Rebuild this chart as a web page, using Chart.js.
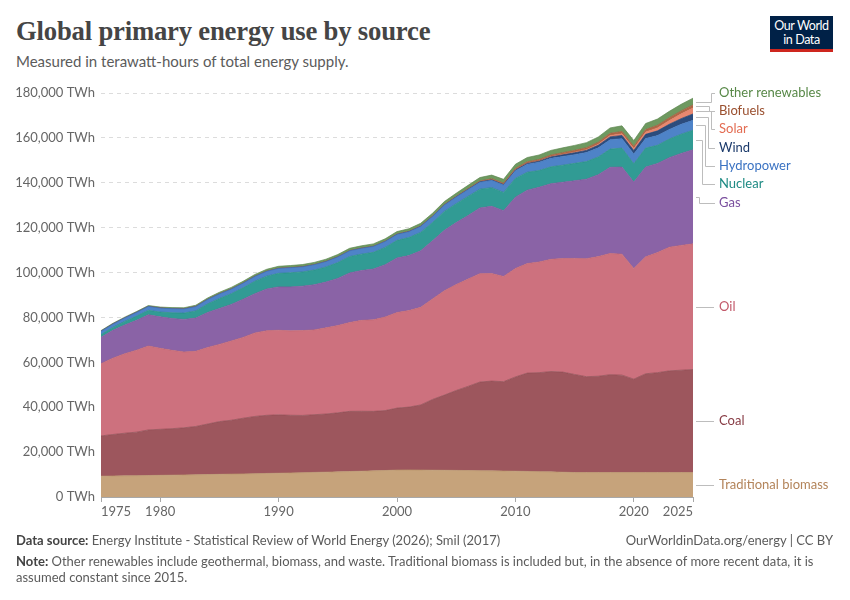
<!DOCTYPE html>
<html>
<head>
<meta charset="utf-8">
<script src="https://cdn.jsdelivr.net/npm/chart.js@4.4.1/dist/chart.umd.min.js"></script>
<style>
  html, body { margin: 0; padding: 0; background: #fff; }
  body { width: 850px; height: 600px; position: relative; overflow: hidden; font-family: Lato, "Noto Sans", sans-serif; }
  #c { position: absolute; left: 0; top: 0; }
  .title { position: absolute; left: 16px; top: 16px; font-family: "Liberation Serif", "DejaVu Serif", serif; font-weight: bold; font-size: 26.7px; color: #454545; letter-spacing: -0.2px; white-space: nowrap; }
  .subtitle { position: absolute; left: 16px; top: 52px; font-size: 15px; color: #5b5b5b; white-space: nowrap; }
  .logo { position: absolute; left: 770px; top: 16px; width: 63px; background: #002147; border-bottom: 3px solid #ce261e; color: #fff; font-size: 12.5px; line-height: 13.5px; text-align: center; padding-top: 3px; box-sizing: content-box; height: 30px; letter-spacing: -0.4px; }
  .foot { position: absolute; left: 16px; font-size: 13px; color: #5b5b5b; white-space: nowrap; }
  .foot b { color: #444; font-weight: bold; }
  .footr { position: absolute; right: 17px; font-size: 13px; color: #5b5b5b; white-space: nowrap; }
</style>
</head>
<body>
<div class="title">Global primary energy use by source</div>
<div class="subtitle">Measured in terawatt-hours of total energy supply.</div>
<div class="logo">Our World<br>in Data</div>
<canvas id="c" width="850" height="600"></canvas>
<div class="foot" style="top:532px;"><b>Data source:</b> Energy Institute - Statistical Review of World Energy (2026); Smil (2017)</div>
<div class="footr" style="top:532px;">OurWorldinData.org/energy | CC BY</div>
<div class="foot" style="top:553px;"><b>Note:</b> Other renewables include geothermal, biomass, and waste. Traditional biomass is included but, in the absence of more recent data, it is</div>
<div class="foot" style="top:569px;">assumed constant since 2015.</div>
<script>
// ---------- DATA (TWh) ----------
const years = [1975,1976,1977,1978,1979,1980,1981,1982,1983,1984,1985,1986,1987,1988,1989,1990,1991,1992,1993,1994,1995,1996,1997,1998,1999,2000,2001,2002,2003,2004,2005,2006,2007,2008,2009,2010,2011,2012,2013,2014,2015,2016,2017,2018,2019,2020,2021,2022,2023,2024,2025];

const traditionalBiomass = [9300,9350,9420,9500,9580,9660,9740,9830,9920,10010,10100,10200,10300,10400,10500,10600,10720,10840,10960,11080,11200,11350,11500,11650,11800,12000,12050,12000,11950,11900,11850,11780,11710,11640,11570,11500,11400,11300,11200,11050,10900,10900,10900,10900,10900,10900,10900,10900,10900,10900,10900];
const coal = [17900,18500,19000,19400,20300,20500,20700,21000,21500,22500,23500,24000,24800,25500,25900,26000,25700,25500,25700,25900,26300,26800,26700,26500,26700,27600,28000,29000,31500,33500,35600,37500,39500,40000,39800,42000,43800,44100,44700,44600,43700,42700,42900,43600,43400,41600,44000,44500,45300,45600,45900];
const oil = [32200,34000,35400,36500,37400,36100,34900,33800,33500,34100,34400,35300,36000,37200,37700,37700,37600,37800,37800,38400,38900,39600,40500,40800,41700,42600,43000,43500,44800,46500,47200,47800,48300,47900,46900,48300,48800,49300,50000,50600,51700,52600,53300,54000,53900,49300,52100,53500,55100,55600,56000];
const gas = [11800,12400,12800,13300,13900,14000,14200,14500,14800,15600,16000,16300,17000,17500,18600,19300,19600,19800,20100,20400,21000,22100,22200,22600,23300,24300,24500,25200,25900,26900,27600,28300,29300,30000,29300,31800,32700,33300,33700,34000,34600,35400,36500,38400,38800,38500,40000,39700,39900,41000,41900];
const nuclear = [1150,1300,1620,1900,2000,2150,2550,2800,3200,3800,4450,4750,5100,5550,5700,6050,6300,6350,6550,6700,7050,7300,7300,7450,7700,7850,8050,8200,8150,8450,8450,8550,8350,8300,8150,8350,8000,7450,7500,7600,7750,7850,7900,8100,8450,8150,8450,8100,8300,8550,8700];
const hydropower = [1450,1470,1510,1620,1690,1730,1760,1810,1880,1940,1990,2020,2050,2120,2130,2160,2210,2230,2340,2380,2480,2520,2560,2590,2610,2650,2600,2650,2660,2800,2920,3030,3080,3240,3250,3430,3500,3670,3780,3880,3880,4020,4060,4180,4220,4340,4270,4330,4240,4400,4420];
const wind = [0,0,0,0,0,0,0,0,0,0,0,0,0,1,2,4,4,5,6,7,8,10,12,16,21,31,38,52,63,85,104,132,170,220,276,346,437,523,640,712,833,960,1140,1270,1420,1590,1850,2100,2330,2520,2850];
const solar = [0,0,0,0,0,0,0,0,0,0,0,0,0,0,0,0,0,0,0,0,1,1,1,1,1,1,1,2,3,4,5,6,8,12,21,32,64,100,134,190,256,329,444,574,700,850,1030,1310,1640,2130,2650];
const biofuels = [0,0,0,5,15,40,50,60,70,80,90,90,90,90,90,90,90,95,95,100,100,105,105,105,110,110,115,130,150,170,220,290,380,500,560,650,650,660,720,800,830,870,920,1000,1080,1000,1100,1180,1270,1330,1380];
const otherRenewables = [330,350,370,400,420,450,480,510,560,620,680,720,760,800,850,880,900,930,950,980,1000,1020,1040,1060,1090,1120,1150,1200,1250,1320,1390,1460,1530,1610,1700,1820,1900,1980,2050,2130,2200,2250,2330,2420,2500,2580,2700,2780,2850,2930,3000];

const seriesNames = ["Traditional biomass","Coal","Oil","Gas","Nuclear","Hydropower","Wind","Solar","Biofuels","Other renewables"];
const seriesValues = [traditionalBiomass, coal, oil, gas, nuclear, hydropower, wind, solar, biofuels, otherRenewables];
const xTickYears = [1975,1980,1990,2000,2010,2020,2025];
const yTicks = [0,20000,40000,60000,80000,100000,120000,140000,160000,180000];

// ---------- STYLE ----------
const fillColors = ['#c6a37b','#9d565d','#cd717e','#8a63a6','#319b94','#4e83c8','#2c4c7d','#e98870','#af6846','#6e9960'];
const lineColors = ['#b8936a','#8f4a52','#c0646f','#7d5699','#268b84','#4175bb','#22406d','#dc7a62','#9c5a3b','#5d8650'];
const labelColors = ['#b3845a','#883c45','#c2596a','#7a4f9e','#1d8a83','#3a72c2','#1b3a6b','#e36c52','#9a4f2e','#578847'];
const labelY = {"Other renewables":93,"Biofuels":111,"Solar":129,"Wind":148,"Hydropower":166,"Nuclear":184,"Gas":203};
const elbowX = {"Other renewables":711,"Biofuels":709,"Solar":711,"Wind":708,"Hydropower":705,"Nuclear":702,"Gas":699};

const datasets = seriesNames.map((name, i) => ({
  label: name,
  data: years.map((yr, j) => ({x: yr, y: seriesValues[i][j]})),
  backgroundColor: fillColors[i],
  borderColor: lineColors[i],
  borderWidth: 0.7,
  pointRadius: 0,
  pointHoverRadius: 0,
  tension: 0,
  fill: i === 0 ? 'origin' : '-1'
}));

const labelPlugin = {
  id: 'endLabels',
  afterDraw(chart) {
    const ctx = chart.ctx;
    const ys = chart.scales.y, xs = chart.scales.x;
    const last = years.length - 1;
    const xEnd = xs.getPixelForValue(years[last]);
    let cum = 0;
    ctx.save();
    ctx.font = '13px Lato, "Noto Sans", sans-serif';
    ctx.textBaseline = 'middle';
    ctx.textAlign = 'left';
    seriesNames.forEach((name, i) => {
      const v = seriesValues[i][last];
      const mid = ys.getPixelForValue(cum + v / 2);
      cum += v;
      const ty = labelY[name] !== undefined ? labelY[name] : mid;
      ctx.strokeStyle = '#bdbdbd';
      ctx.lineWidth = 1;
      ctx.beginPath();
      if (labelY[name] !== undefined) {
        const ex = elbowX[name];
        ctx.moveTo(xEnd + 3, Math.round(mid) + 0.5);
        ctx.lineTo(ex + 0.5, Math.round(mid) + 0.5);
        ctx.lineTo(ex + 0.5, Math.round(ty) + 0.5);
        ctx.lineTo(715, Math.round(ty) + 0.5);
      } else {
        ctx.moveTo(xEnd + 3, Math.round(ty) + 0.5);
        ctx.lineTo(714, Math.round(ty) + 0.5);
      }
      ctx.stroke();
      ctx.fillStyle = labelColors[i];
      ctx.fillText(name, 719, ty);
    });
    ctx.restore();
  }
};

new Chart(document.getElementById('c'), {
  type: 'line',
  data: { datasets },
  options: {
    responsive: false,
    animation: false,
    devicePixelRatio: 1,
    events: [],
    layout: { padding: { left: 0, top: 93, right: 157, bottom: 73 } },
    plugins: { legend: { display: false }, tooltip: { enabled: false } },
    scales: {
      x: {
        type: 'linear',
        min: years[0],
        max: years[years.length - 1],
        afterBuildTicks: (s) => { s.ticks = xTickYears.map(v => ({ value: v })); },
        afterFit: (s) => { s.height = 30; },
        grid: { drawOnChartArea: false, drawTicks: true, tickLength: 5, color: '#a8a8a8' },
        border: { display: true, color: '#a8a8a8' },
        ticks: { align: 'inner', padding: 2, color: '#666', font: { family: 'Lato', size: 13 }, callback: (v) => String(v), maxRotation: 0, autoSkip: false }
      },
      y: {
        stacked: true,
        min: 0,
        max: 180000,
        afterBuildTicks: (s) => { s.ticks = yTicks.map(v => ({ value: v })); },
        afterFit: (s) => { s.width = 101; },
        grid: { color: '#dcdcdc', drawTicks: false, lineWidth: 1 },
        border: { display: false, dash: [4, 4] },
        ticks: { padding: 6, color: '#666', font: { family: 'Lato', size: 13 }, callback: (v) => v.toLocaleString('en-US') + ' TWh' }
      }
    }
  },
  plugins: [labelPlugin]
});
</script>
</body>
</html>
